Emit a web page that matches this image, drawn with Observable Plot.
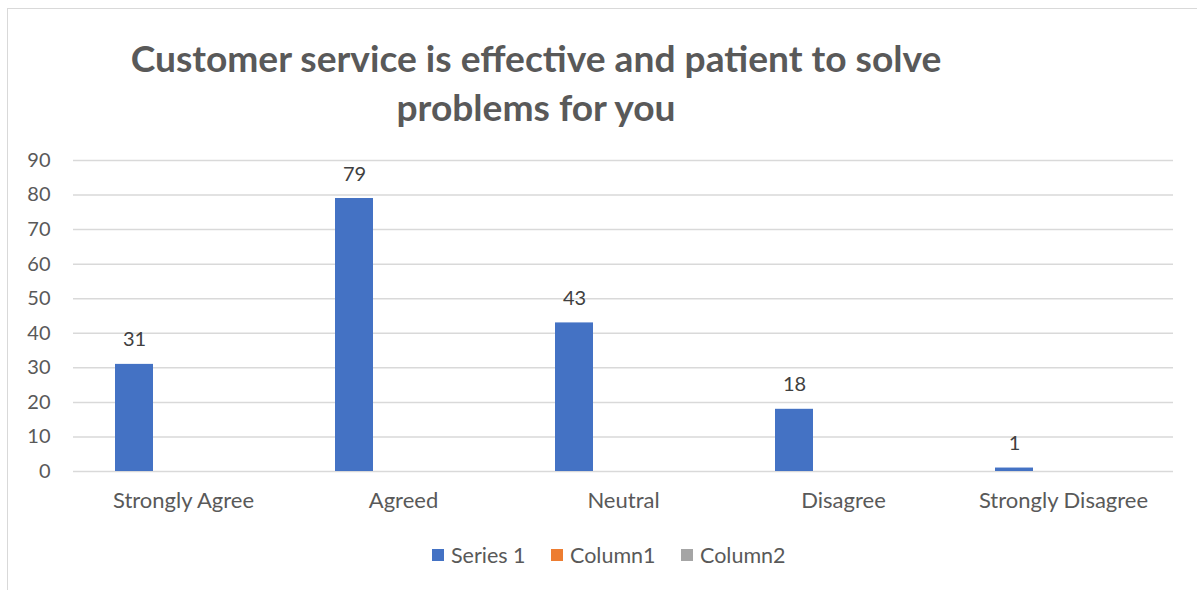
<!DOCTYPE html>
<html><head><meta charset="utf-8">
<script src="https://cdn.jsdelivr.net/npm/d3@7"></script>
<script src="https://cdn.jsdelivr.net/npm/@observablehq/plot@0.6"></script>
<style>
html,body{margin:0;padding:0;background:#fff;overflow:hidden;}
#wrap{position:relative;width:1197px;height:590px;font-family:Lato,"Open Sans",sans-serif;}
#border{position:absolute;left:7px;top:8px;width:1220px;height:620px;border:1.5px solid #d9d9d9;box-sizing:border-box;}
#title{position:absolute;left:36px;width:1000px;top:33px;text-align:center;font-weight:bold;color:#595959;line-height:49px;}
#plot{position:absolute;left:0;top:140px;}
#legend{position:absolute;left:0;width:1197px;top:542px;text-align:left;font-size:21.5px;color:#595959;}
.item{position:absolute;top:0;display:flex;align-items:center;height:26px;}
.sw{width:12px;height:12px;margin-right:7px;display:inline-block;}
</style></head><body>
<div id="wrap">
<div id="border"></div>
<div id="title"></div>
<div id="plot"></div>
<div id="legend"></div>
</div>
<script>
const titleLines = ["Customer service is effective and patient to solve", "problems for you"];
const categories = ["Strongly Agree", "Agreed", "Neutral", "Disagree", "Strongly Disagree"];
const seriesNames = ["Series 1", "Column1", "Column2"];
const series1 = [31, 79, 43, 18, 1];
const column1 = [0, 0, 0, 0, 0];
const column2 = [0, 0, 0, 0, 0];
const seriesColors = ["#4472C4", "#ED7D31", "#A5A5A5"];
const yTicks = [0, 10, 20, 30, 40, 50, 60, 70, 80, 90];

const seriesValues = [series1, column1, column2];
const rows = [];
categories.forEach((c, i) => {
  seriesNames.forEach((s, j) => rows.push({category: c, series: s, value: seriesValues[j][i]}));
});
const labelRows = rows.filter(d => d.series === seriesNames[0]);

// title: fit font size to reference width of first line
const cv = document.createElement("canvas").getContext("2d");
cv.font = "bold 100px Lato";
const w100 = cv.measureText(titleLines[0]).width;
const tSize = Math.min(40, 100 * 812 / w100);
const titleEl = document.getElementById("title");
titleEl.style.fontSize = tSize + "px";
titleEl.innerHTML = titleLines.map(t => `<div>${t}</div>`).join("");

const chart = Plot.plot({
  width: 1197,
  height: 380,
  marginTop: 20,
  marginBottom: 49,
  marginLeft: 72,
  marginRight: 24,
  style: {fontFamily: "Lato, 'Open Sans', sans-serif", fontSize: "20px", color: "#595959", background: "transparent"},
  fx: {domain: categories, padding: 0, label: null},
  x: {domain: seriesNames, paddingInner: 0.2245, paddingOuter: 0.857, axis: null},
  y: {domain: [0, 90], label: null},
  color: {domain: seriesNames, range: seriesColors},
  marks: [
    Plot.ruleY(yTicks, {stroke: "#d9d9d9", strokeWidth: 1.5}),
    Plot.barY(rows, {fx: "category", x: "series", y: "value", fill: "series"}),
    Plot.text(labelRows, {fx: "category", x: "series", y: "value", text: d => String(d.value), dy: -18, lineAnchor: "bottom", fill: "#404040", fontSize: 20}),
    Plot.axisY(yTicks, {tickSize: 0, tickPadding: 23, label: null, fill: "#595959", fontSize: 20}),
    Plot.axisFx({anchor: "bottom", tickSize: 0, tickPadding: 21, label: null, fill: "#595959", fontSize: 22})
  ]
});
document.getElementById("plot").appendChild(chart);

// legend
const legend = document.getElementById("legend");
const legendX = [432, 551, 681];
seriesNames.forEach((s, i) => {
  const it = document.createElement("div");
  it.className = "item";
  it.style.left = legendX[i] + "px";
  it.innerHTML = `<span class="sw" style="background:${seriesColors[i]}"></span><span>${s}</span>`;
  legend.appendChild(it);
});
</script>
</body></html>
